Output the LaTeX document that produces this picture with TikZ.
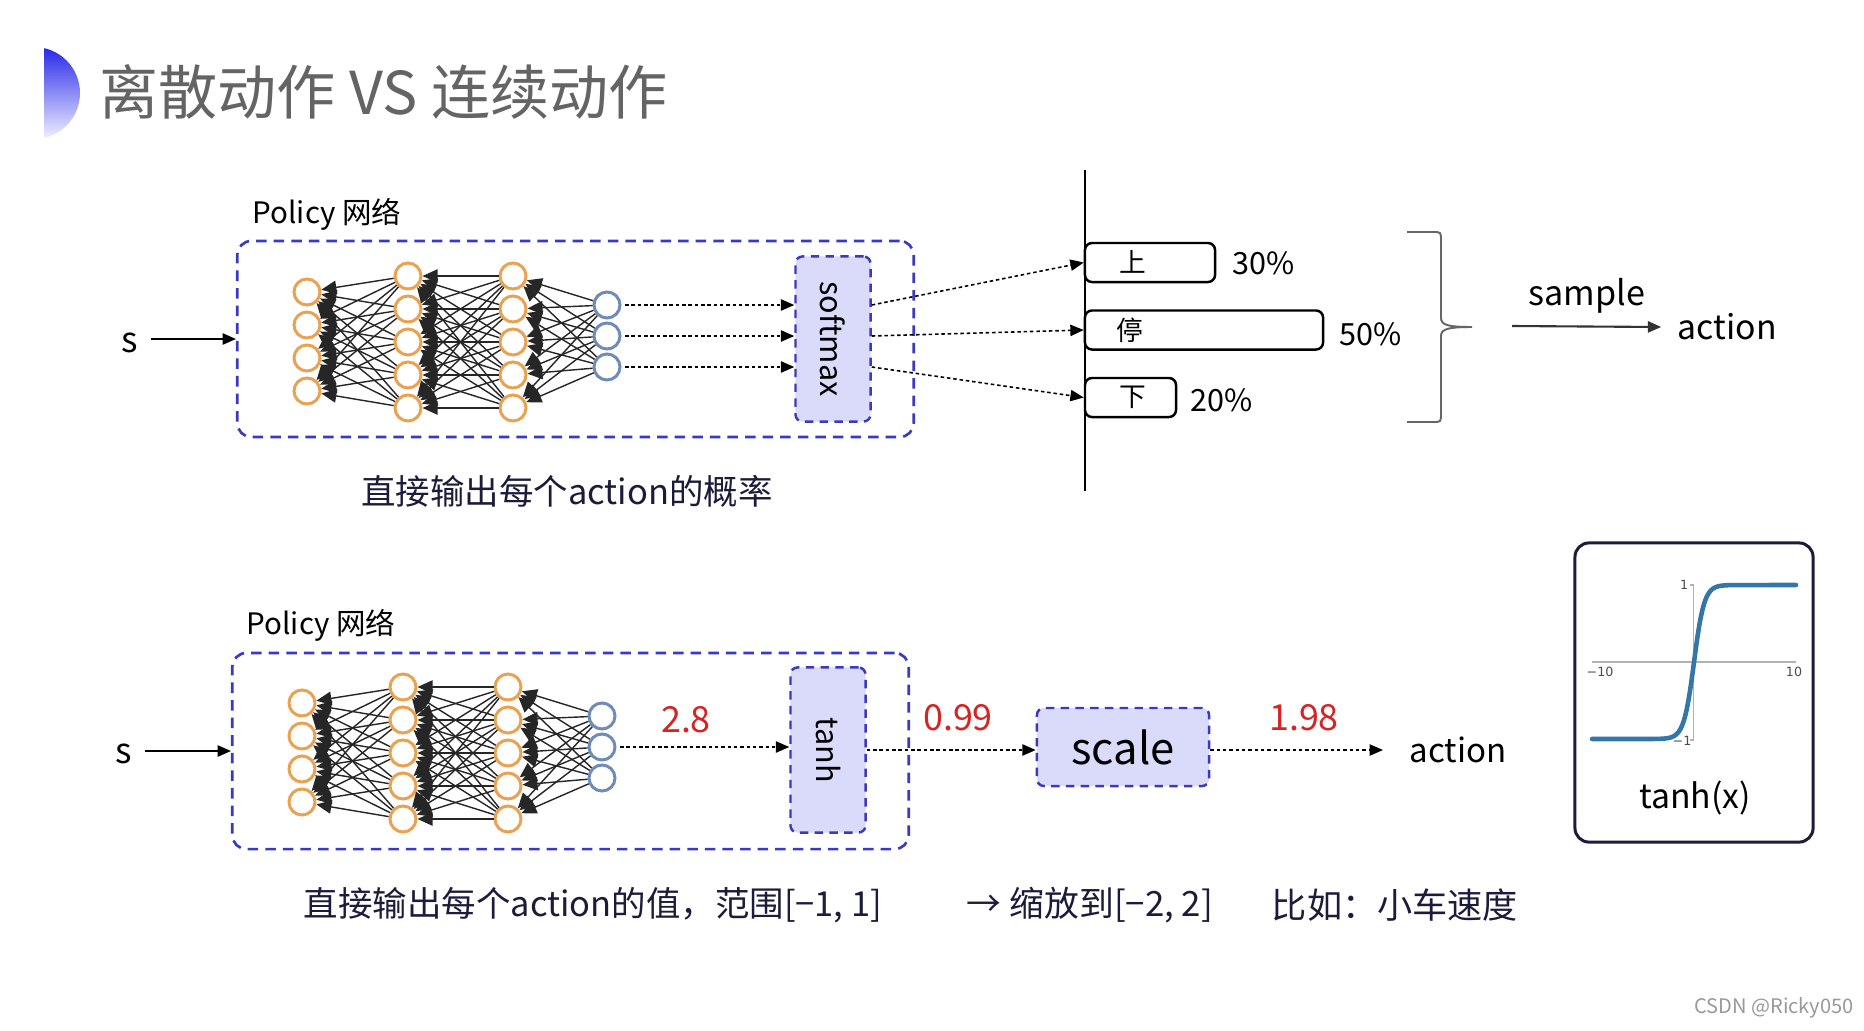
\documentclass[tikz,border=0pt]{standalone}
\usepackage{fontspec}
\setmainfont{Noto Sans CJK SC}
\newfontfamily\plotfont{DejaVu Sans}
\usepackage{graphicx}
\usepackage{tikz}
\usetikzlibrary{arrows.meta,positioning,calc}
\tikzset{>={Triangle[length=3.8pt,width=3.2pt]}}

\definecolor{boxblue}{RGB}{58,58,190}
\definecolor{lav}{RGB}{218,218,250}
\definecolor{nodeorange}{RGB}{232,162,82}
\definecolor{nodeblue}{RGB}{110,140,182}
\definecolor{plotblue}{RGB}{52,118,168}
\definecolor{navy}{RGB}{28,28,58}
\definecolor{titlegray}{RGB}{100,100,100}
\definecolor{numred}{RGB}{212,36,36}
\newcommand{\fsz}[1]{\fontsize{#1pt}{#1pt}\selectfont}

\tikzset{
  policybox/.style={draw=boxblue,line width=0.75pt,dash pattern=on 3pt off 2pt,rounded corners=4pt,
    minimum width=6.76cm,minimum height=1.96cm,inner sep=0pt},
  funcbox/.style={draw=boxblue,fill=lav,line width=0.7pt,dash pattern=on 2.4pt off 1.8pt,
    rounded corners=2pt,inner sep=0pt},
  neuron/.style={circle,draw=nodeorange,fill=white,line width=0.85pt,minimum size=0.26cm,inner sep=0pt},
  outneuron/.style={neuron,draw=nodeblue},
  wire/.style={draw=black!85,line width=0.4pt,-{Triangle[length=4.3pt,width=3.8pt]}},
  dotarrow/.style={->,line width=0.45pt,dash pattern=on 1pt off 0.8pt},
  choice/.style={draw,fill=white,line width=0.7pt,rounded corners=2pt,minimum height=0.39cm,inner sep=0pt},
  rednum/.style={text=numred,font=\fsz{10.2}}
}

\begin{document}
\begin{tikzpicture}[x=0.01cm,y=-0.01cm]
\path[use as bounding box,fill=white] (0,0) rectangle (1864,1030);

\begin{scope}
  \clip (44,40) rectangle (95,145);
  \shade[top color={rgb,255:red,40;green,40;blue,232},bottom color={rgb,255:red,240;green,240;blue,255}] (34,93) circle (46);
\end{scope}
\node[anchor=west,inner sep=0pt,text=titlegray,font=\fsz{16.8}] (title) at (99,92) {离散动作 VS 连续动作};

\node[policybox] (polA) at (575.5,339) {};
\node[policybox] (polB) at (570.5,751) {};
\node[font=\fsz{8.4}] (polAlbl) at (327,214) {Policy 网络};
\node[font=\fsz{8.4}] (polBlbl) at (321,625) {Policy 网络};

\foreach \n/\dx/\dy in {t/0/0,b/-5/411}{
  \begin{scope}[shift={(\dx,\dy)}]
    \foreach \i in {1,...,4} \node[neuron] (\n a\i) at (307,{259+33*\i}) {};
    \foreach \i in {1,...,5} \node[neuron] (\n b\i) at (408,{243+33*\i}) {};
    \foreach \i in {1,...,5} \node[neuron] (\n c\i) at (513,{243+33*\i}) {};
    \foreach \i in {1,...,3} \node[outneuron] (\n d\i) at (607,{274+31*\i}) {};
    \foreach \i in {1,...,5}{
      \foreach \j in {1,...,4} \draw[wire] (\n b\i) -- (\n a\j);
      \foreach \j in {1,...,5} \draw[wire] (\n c\i) -- (\n b\j);
    }
    \foreach \i in {1,...,3}
      \foreach \j in {1,...,5} \draw[wire] (\n d\i) -- (\n c\j);
  \end{scope}
}

\node[font=\fsz{10}] (sA) at (130,343) {s};
\draw[->,line width=0.5pt] (sA.east |- polA.west) -- (polA.west);
\node[funcbox,minimum width=0.75cm,minimum height=1.65cm,font=\fsz{8.7}] (smax) at (833,339) {\rotatebox{-90}{softmax}};
\foreach \i in {1,2,3} \draw[dotarrow,shorten <=1pt] (td\i) -- (td\i -| smax.west);

\draw[line width=0.5pt] (1085,170) -- (1085,491);
\node[choice,minimum width=1.3cm] (upbox) at (1150,262.5) {};
\node[choice,minimum width=2.38cm] (stopbox) at (1204,330) {};
\node[choice,minimum width=0.91cm] (downbox) at (1130.5,397.5) {};
\node[font=\fsz{7.6}] (uptxt) at (1133,262) {上};
\node[font=\fsz{7.6}] (stoptxt) at (1130,330) {停};
\node[font=\fsz{7.6}] (downtxt) at (1133,397) {下};
\draw[dotarrow] (smax.east |- td1) -- (upbox.west);
\draw[dotarrow] (smax.east |- td2) -- (stopbox.west);
\draw[dotarrow] (smax.east |- td3) -- (downbox.west);
\node[font=\fsz{8.7}] (p30) at (1264,263) {30\%};
\node[font=\fsz{8.7}] (p50) at (1371,334) {50\%};
\node[font=\fsz{8.7}] (p20) at (1222,400) {20\%};

\draw[black!60,line width=0.55pt] (1407,232) -- (1433,232) .. controls (1441,232) .. (1441,241) -- (1441,318)
  .. controls (1441,325) and (1448,327) .. (1472,327) .. controls (1448,327) and (1441,329) .. (1441,336)
  -- (1441,413) .. controls (1441,422) .. (1433,422) -- (1407,422);
\coordinate (smp) at (1512,326);
\node[font=\fsz{9.6},inner sep=0pt,anchor=west] (actA) at (1677,327) {action};
\draw[->,line width=0.6pt,black!80] (smp) -- ([xshift=-4.5pt]actA.west);
\node[font=\fsz{9.7}] (smpl) at (1587,296) {sample};
\node[font=\fsz{9.8},text=navy] (descA) at (567,491) {直接输出每个action的概率};

\node[font=\fsz{10}] (sB) at (124,754) {s};
\draw[->,line width=0.5pt] (sB.east |- polB.west) -- (polB.west);
\node[funcbox,minimum width=0.75cm,minimum height=1.65cm,font=\fsz{8.7}] (tanhbox) at (828,750) {\rotatebox{-90}{tanh}};
\draw[dotarrow,shorten <=1pt] (bd2) -- (bd2 -| tanhbox.west);
\node[rednum] (v1) at (686,720) {2.8};
\node[funcbox,minimum width=1.72cm,minimum height=0.78cm,font=\fsz{12.4}] (scl) at (1123,747) {scale};
\draw[dotarrow] (tanhbox.east) -- (tanhbox.east -| scl.west);
\node[rednum] (v2) at (958,718) {0.99};
\node[font=\fsz{9.4},inner sep=0pt,anchor=west] (actB) at (1409,750) {action};
\draw[dotarrow] (scl.east |- actB.west) -- ([xshift=-7.4pt]actB.west);
\node[rednum] (v3) at (1304,718) {1.98};

\node[font=\fsz{9.8},text=navy] (descB) at (593,905) {直接输出每个action的值，范围[−1, 1]};
\node[font=\fsz{9.9},text=navy] (scaleTxt) at (1090,905) {→ 缩放到[−2, 2]};
\node[font=\fsz{10},text=navy] (egTxt) at (1395,905) {比如：小车速度};

\node[draw=navy,line width=0.85pt,rounded corners=4pt,minimum width=2.38cm,minimum height=2.99cm] (plotbox) at (1694,692.5) {};
\draw[black!30,line width=0.3pt] (1592,662) -- (1796,662);
\draw[black!30,line width=0.3pt] (1690,585) -- (1693,585) -- (1693,740) -- (1690,740);
\node[font=\plotfont\fsz{3.6},text=black!70] (t1) at (1684,585) {1};
\node[font=\plotfont\fsz{3.6},text=black!70] (tm1) at (1682,741) {−1};
\node[font=\plotfont\fsz{3.6},text=black!70] (tm10) at (1600,672) {−10};
\node[font=\plotfont\fsz{3.6},text=black!70] (t10) at (1794,672) {10};
\draw[plotblue,line width=1.3pt,line cap=round] (1592,739) -- (1653,739)
  -- plot[domain=-4:4,samples=81,smooth] ({1694+10.2*\x},{662-77*(1-2/(exp(2*\x)+1))}) -- (1796,585);
\node[font=\fsz{9.6}] (tanhlbl) at (1695,798) {tanh(x)};

\node[font=\fsz{5.7},text=black!40] (wm) at (1774,1008) {CSDN @Ricky050};
\end{tikzpicture}
\end{document}
